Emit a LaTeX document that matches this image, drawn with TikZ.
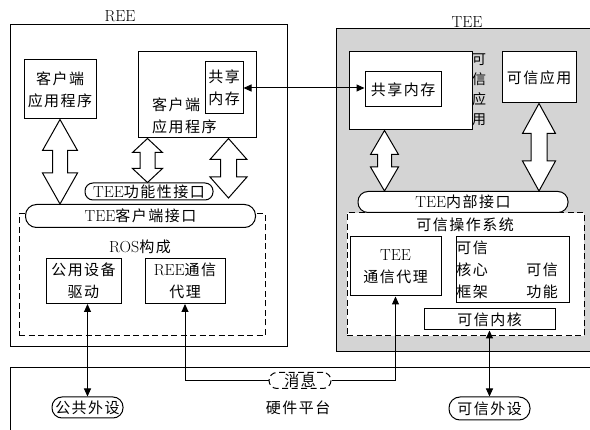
\documentclass[tikz,border=0pt]{standalone}
\usepackage{fontspec}
\usetikzlibrary{arrows.meta,calc}
\newfontfamily\cjk[LetterSpace=10]{Noto Sans CJK SC}
\newcommand\zh[1]{{\cjk\fontsize{15}{22}\selectfont #1}}
% hollow double arrow: #1 top point, #2 bottom point (only y used), #3 head half width, #4 shaft half width, #5 head length
\newcommand\hollowarr[5]{\draw[hollow] let \p1=(#1), \p2=(#2) in
  (\x1,\y1) -- (\x1+#3pt,\y1-#5pt) -- (\x1+#4pt,\y1-#5pt) -- (\x1+#4pt,\y2+#5pt) -- (\x1+#3pt,\y2+#5pt)
  -- (\x1,\y2) -- (\x1-#3pt,\y2+#5pt) -- (\x1-#4pt,\y2+#5pt) -- (\x1-#4pt,\y1-#5pt) -- (\x1-#3pt,\y1-#5pt) -- cycle;}
\tikzset{
  box/.style={draw, fill=white, line width=1pt},
  pillbox/.style={draw, fill=white, line width=1pt, rounded corners=#1},
  dbox/.style={draw, line width=1pt, dash pattern=on 6pt off 3.5pt},
  hollow/.style={draw, fill=white, line width=1pt, line join=miter},
  conn/.style={line width=1pt},
  onearr/.style={-{Triangle[length=8pt,width=7pt]}},
  twoarr/.style={{Triangle[length=8pt,width=7pt]}-{Triangle[length=8pt,width=7pt]}},
}
\begin{document}
\begin{tikzpicture}[x=1pt,y=-1pt,
  every node/.style={font=\fontsize{16}{22}\selectfont, inner sep=0pt, align=center}]
\useasboundingbox (0,0) rectangle (590,430);
\clip (0,0) rectangle (590,430);
% frames
\node[box, minimum width=600pt, minimum height=82pt] (hw) at (310,409) {};
\node[box, minimum width=277pt, minimum height=322pt] (ree) at (148.5,186) {};
\node (reelbl) at (120,16) {REE};
\node[draw, fill=black!17, line width=1pt, minimum width=274pt, minimum height=323pt] (tee) at (473,190.5) {};
\node (teelbl) at (467,22) {TEE};
% REE side
\node[box, minimum width=72pt, minimum height=59pt] (app1) at (60,89.5) {\zh{客户端}\\\zh{应用程序}};
\node[box, minimum width=118pt, minimum height=86pt] (app2) at (197,95) {};
\node[anchor=west, align=left] (app2txt) at (152,116) {\zh{客户端}\\\zh{应用程序}};
\node[box, minimum width=38pt, minimum height=52pt] (shmR) at (224,88) {\zh{共享}\\\zh{内存}};
\node[dbox, minimum width=246pt, minimum height=122pt] (ros) at (142,275) {};
\node[pillbox=11pt, minimum width=230pt, minimum height=23pt] (cif) at (140.5,216) {TEE\zh{客户端接口}};
\node[pillbox=8pt, minimum width=128pt, minimum height=17pt] (fif) at (149,191.5) {TEE\zh{功能性接口}};
\node (roslbl) at (140,247) {ROS\zh{构成}};
\node[box, minimum width=75pt, minimum height=45pt] (drv) at (83.5,281) {\zh{公用设备}\\\zh{驱动}};
\node[box, minimum width=80pt, minimum height=45pt] (reecomm) at (185,281) {REE\zh{通信}\\\zh{代理}};
% TEE side
\node[box, minimum width=123pt, minimum height=78pt] (ta1) at (410.5,91) {};
\node[box, minimum width=76pt, minimum height=35pt] (shmT) at (403,89.5) {\zh{共享内存}};
\node[font=\fontsize{14}{20}\selectfont] (ta1lbl) at (479,90) {{\cjk 可}\\{\cjk 信}\\{\cjk 应}\\{\cjk 用}};
\node[box, minimum width=74pt, minimum height=51pt] (ta2) at (539,77.5) {\zh{可信应用}};
\node[dbox, fill=white, minimum width=237pt, minimum height=123pt] (tos) at (465.5,274.5) {};
\node[pillbox=10pt, minimum width=210pt, minimum height=21pt] (iif) at (463,202) {TEE\zh{内部接口}};
\node (toslbl) at (465,225) {\zh{可信操作系统}};
\node[box, minimum width=91pt, minimum height=59pt] (teecomm) at (395.5,266.5) {TEE\\\zh{通信代理}};
\node[box, minimum width=113pt, minimum height=66pt] (core) at (512.5,270) {};
\node (corel) at (472,270) {\zh{可信}\\\zh{核心}\\\zh{框架}};
\node (corer) at (542,281) {\zh{可信}\\\zh{功能}};
\node[box, minimum width=131pt, minimum height=21pt] (kern) at (489.5,319.5) {\zh{可信内核}};
% hardware platform
\node[pillbox=10pt, minimum width=71pt, minimum height=21pt] (pub) at (87.5,407.5) {\zh{公共外设}};
\node[pillbox=8pt, dash pattern=on 6pt off 3.5pt, minimum width=62pt, minimum height=16pt] (msg) at (300,380.5) {\zh{消息}};
\node (hwlbl) at (298,408) {\zh{硬件平台}};
\node[pillbox=11pt, minimum width=81pt, minimum height=23pt] (tper) at (489.5,408.5) {\zh{可信外设}};
% hollow arrows
\hollowarr{app1.south}{cif.north}{17.5}{7.5}{31}
\hollowarr{$(app2.south west)+(10,0)$}{fif.north}{15}{7.5}{14}
\hollowarr{$(app2.south east)+(-28,0)$}{$(cif.north)+(0,-6)$}{18.5}{8}{21}
\hollowarr{$(ta1.south west)+(36,0)$}{iif.north}{14}{7}{24}
\hollowarr{ta2.south}{iif.north}{16.5}{8}{30}
% connectors
\draw[conn, twoarr] (shmR.east) -- (shmR.east -| shmT.west);
\draw[conn, twoarr] (drv.south -| pub.north) -- (pub.north);
\draw[conn, onearr] (msg.west) -| (reecomm.south);
\draw[conn, onearr] (msg.east) -| (teecomm.south);
\draw[conn, twoarr] (kern.south) -- (tper.north);
\end{tikzpicture}
\end{document}
